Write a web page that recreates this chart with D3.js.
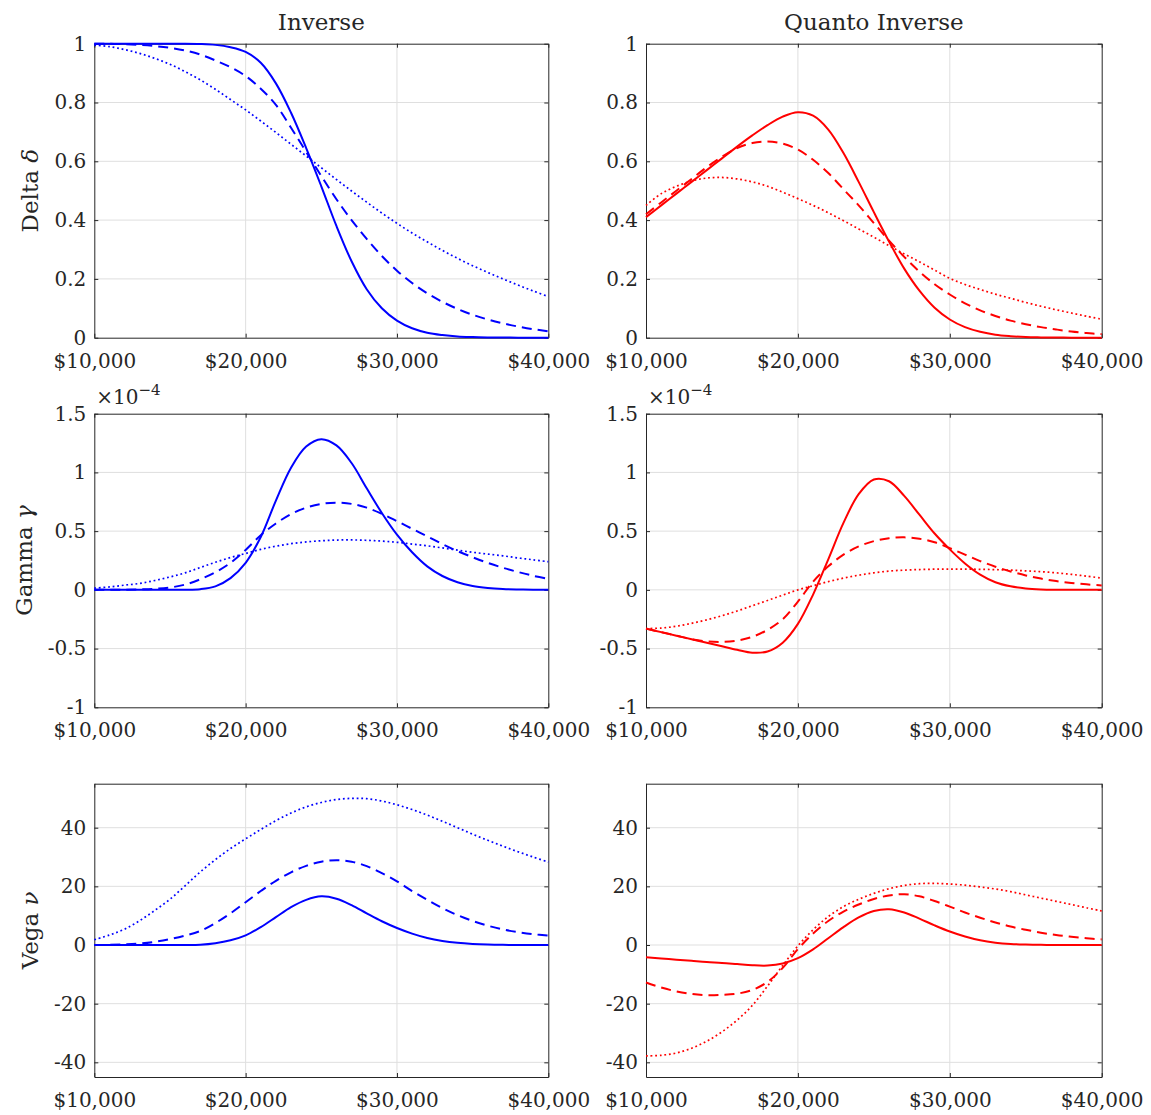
<!DOCTYPE html>
<html><head><meta charset="utf-8">
<script src="https://cdn.jsdelivr.net/npm/d3@7"></script>
<style>
body{margin:0;background:#fff;}
svg text{font-family:"DejaVu Serif",serif;fill:#262626;}
</style>
</head><body>
<svg id="c" width="1151" height="1115"></svg>
<script>
// ---------------- data ----------------
const strikes = [10000,11000,12000,13000,14000,15000,16000,17000,18000,19000,20000,
  21000,22000,23000,24000,25000,26000,27000,28000,29000,30000,
  31000,32000,33000,34000,35000,36000,37000,38000,39000,40000];
const xTickValues = [10000,20000,30000,40000];
const columnTitles = ["Inverse","Quanto Inverse"];
const deltaTicks = [0,0.2,0.4,0.6,0.8,1];
const gammaTicks = [-1,-0.5,0,0.5,1,1.5];   // in units of 1e-4
const vegaTicks = [-40,-20,0,20,40];

// Delta, inverse
const deltaInvSolid  = [1,1,1,1,1,1,1,0.999,0.996,0.988,0.972,0.935,0.865,0.765,0.645,0.515,0.38,0.26,0.165,0.1,0.058,0.032,0.017,0.009,0.004,0.002,0.001,0.0005,0.0002,0.0001,0];
const deltaInvDashed = [1,0.9995,0.9985,0.996,0.992,0.986,0.977,0.963,0.943,0.92,0.89,0.847,0.792,0.714,0.632,0.55,0.471,0.4,0.336,0.278,0.228,0.186,0.151,0.122,0.098,0.078,0.062,0.049,0.038,0.029,0.022];
const deltaInvDotted = [0.995,0.99,0.98,0.967,0.95,0.93,0.905,0.877,0.845,0.81,0.775,0.737,0.698,0.658,0.618,0.578,0.538,0.499,0.461,0.424,0.389,0.356,0.326,0.297,0.27,0.245,0.222,0.2,0.179,0.159,0.14];
// Delta, quanto inverse
const deltaQSolid  = [0.41,0.45,0.49,0.53,0.57,0.61,0.65,0.688,0.723,0.752,0.767,0.755,0.708,0.628,0.53,0.427,0.327,0.235,0.16,0.102,0.062,0.036,0.02,0.01,0.005,0.002,0.001,0.0005,0.0002,0.0001,0];
const deltaQDashed = [0.42,0.46,0.5,0.54,0.58,0.615,0.645,0.662,0.667,0.66,0.64,0.605,0.56,0.505,0.45,0.39,0.33,0.275,0.225,0.182,0.147,0.117,0.093,0.074,0.058,0.046,0.036,0.028,0.021,0.016,0.012];
const deltaQDotted = [0.45,0.49,0.515,0.533,0.543,0.545,0.54,0.53,0.515,0.495,0.473,0.45,0.425,0.398,0.37,0.342,0.313,0.285,0.258,0.23,0.202,0.181,0.164,0.148,0.134,0.12,0.107,0.095,0.084,0.073,0.063];
// Gamma (x 1e-4), inverse
const gammaInvSolid  = [0,0,0,0,0,0,0.001,0.006,0.03,0.1,0.23,0.45,0.76,1.04,1.22,1.283,1.23,1.08,0.865,0.655,0.47,0.32,0.2,0.118,0.065,0.033,0.016,0.007,0.003,0.001,0];
const gammaInvDashed = [0,0,0.001,0.004,0.009,0.02,0.045,0.09,0.15,0.23,0.34,0.465,0.565,0.645,0.7,0.732,0.742,0.732,0.7,0.648,0.585,0.52,0.455,0.39,0.33,0.278,0.23,0.188,0.152,0.12,0.093];
const gammaInvDotted = [0.015,0.025,0.04,0.055,0.08,0.11,0.145,0.19,0.235,0.275,0.31,0.345,0.372,0.393,0.408,0.418,0.424,0.425,0.422,0.415,0.405,0.39,0.375,0.357,0.338,0.32,0.305,0.29,0.272,0.256,0.24];
// Gamma (x 1e-4), quanto inverse
const gammaQSolid  = [-0.33,-0.36,-0.39,-0.42,-0.45,-0.48,-0.51,-0.535,-0.525,-0.45,-0.29,-0.04,0.26,0.57,0.815,0.94,0.925,0.8,0.64,0.48,0.345,0.225,0.13,0.065,0.03,0.012,0.004,0.001,0,0,0];
const gammaQDashed = [-0.33,-0.36,-0.39,-0.42,-0.438,-0.443,-0.432,-0.4,-0.34,-0.25,-0.1,0.07,0.2,0.3,0.37,0.415,0.44,0.447,0.435,0.405,0.355,0.3,0.245,0.197,0.157,0.123,0.096,0.075,0.059,0.047,0.038];
const gammaQDotted = [-0.33,-0.325,-0.31,-0.285,-0.255,-0.22,-0.18,-0.135,-0.09,-0.045,0,0.035,0.07,0.1,0.125,0.145,0.16,0.168,0.173,0.176,0.177,0.177,0.175,0.172,0.168,0.162,0.155,0.145,0.132,0.117,0.1];
// Vega, inverse
const vegaInvSolid  = [0,0,0,0,0,0,0.02,0.1,0.6,1.6,3.3,6.1,9.5,12.9,15.4,16.6,15.8,13.6,10.8,8.1,5.8,3.9,2.4,1.4,0.75,0.37,0.16,0.06,0.02,0.01,0];
const vegaInvDashed = [0,0.05,0.2,0.5,1.1,2.0,3.2,4.8,7.5,10.8,14.6,18.4,21.9,24.8,27.0,28.4,28.9,28.4,26.9,24.5,21.7,18.4,15.4,12.6,10.2,8.2,6.6,5.3,4.4,3.7,3.2];
const vegaInvDotted = [1.8,3.4,5.4,8.3,11.8,15.6,20.2,24.9,29.1,32.9,36.2,39.4,42.4,45,47.1,48.6,49.6,50.0,49.9,49.1,47.8,46.2,44.3,42.2,40.0,37.8,35.7,33.7,31.8,30.0,28.3];
// Vega, quanto inverse
const vegaQSolid  = [-4.2,-4.6,-5.0,-5.4,-5.8,-6.1,-6.5,-6.9,-7.0,-6.3,-4.5,-1.5,2.3,6.1,9.4,11.6,12.2,11.1,9.0,6.7,4.6,2.9,1.6,0.8,0.35,0.15,0.05,0.02,0,0,0];
const vegaQDashed = [-12.8,-14.5,-15.8,-16.7,-17.1,-17.0,-16.6,-15.3,-12.6,-7.8,-1.4,3.9,8.2,11.4,13.8,15.7,16.9,17.3,16.6,15.0,13.1,11.1,9.3,7.7,6.3,5.2,4.2,3.4,2.8,2.3,1.9];
const vegaQDotted = [-37.8,-37.6,-36.8,-35.2,-32.8,-29.6,-25.6,-20.6,-14.0,-7.0,-0.3,5.2,9.7,13.1,15.6,17.6,19.2,20.3,20.9,21.0,20.8,20.4,19.8,19.1,18.2,17.1,16.0,14.9,13.8,12.7,11.6];

// ---------------- layout / style ----------------
const cols = [{x0:94.3, x1:548.3, color:"#0000ff"}, {x0:646, x1:1101.7, color:"#ff0000"}];
const rowBoxes = [{y0:43.7, y1:337.7}, {y0:413.7, y1:707.3}, {y0:783.7, y1:1077}];
const rowDefs = [
  {name:"Delta", greek:"δ", domain:[0,1], ticks:deltaTicks, exp:null,
   series:[[deltaInvSolid,deltaInvDashed,deltaInvDotted],[deltaQSolid,deltaQDashed,deltaQDotted]]},
  {name:"Gamma", greek:"γ", domain:[-1,1.5], ticks:gammaTicks, exp:"−4",
   series:[[gammaInvSolid,gammaInvDashed,gammaInvDotted],[gammaQSolid,gammaQDashed,gammaQDotted]]},
  {name:"Vega", greek:"ν", domain:[-45,55], ticks:vegaTicks, exp:null,
   series:[[vegaInvSolid,vegaInvDashed,vegaInvDotted],[vegaQSolid,vegaQDashed,vegaQDotted]]}
];
const styles = [
  {w:2.0, dash:null},
  {w:2.0, dash:"10,6"},
  {w:1.7, dash:"1.8,2.8"}
];
const axisColor = "#262626", gridColor = "#dfdfdf";
const tickFont = 20, labelFont = 23;

const svg = d3.select("#c");
const fmtX = v => "$" + d3.format(",")(v);
const fmtY = v => String(v);

rowDefs.forEach((rd, ri) => {
  const rb = rowBoxes[ri];
  let minLeft = Infinity;
  cols.forEach((c, ci) => {
    const x = d3.scaleLinear().domain([10000,40000]).range([c.x0, c.x1]);
    const y = d3.scaleLinear().domain(rd.domain).range([rb.y1, rb.y0]);
    const g = svg.append("g");

    // grid
    g.append("g").selectAll("line").data(xTickValues.slice(1,-1)).join("line")
      .attr("x1", d=>x(d)).attr("x2", d=>x(d)).attr("y1", rb.y0).attr("y2", rb.y1)
      .attr("stroke", gridColor).attr("stroke-width", 1);
    g.append("g").selectAll("line").data(rd.ticks.filter(t=>y(t)>rb.y0+1 && y(t)<rb.y1-1)).join("line")
      .attr("y1", d=>y(d)).attr("y2", d=>y(d)).attr("x1", c.x0).attr("x2", c.x1)
      .attr("stroke", gridColor).attr("stroke-width", 1);

    // axes (ticks pointing inward on all four sides)
    const styleAxis = sel => {
      sel.attr("color", axisColor).attr("font-family", null).attr("font-size", null);
      sel.selectAll("path.domain").attr("stroke-width", 1);
      sel.selectAll("text").style("font-size", tickFont + "px").style("fill", axisColor);
    };
    const bottom = g.append("g").attr("transform", `translate(0,${rb.y1})`)
      .call(d3.axisBottom(x).tickValues(xTickValues).tickFormat(fmtX).tickSizeInner(-4).tickSizeOuter(0).tickPadding(16));
    styleAxis(bottom);
    const top = g.append("g").attr("transform", `translate(0,${rb.y0})`)
      .call(d3.axisTop(x).tickValues(xTickValues).tickFormat("").tickSizeInner(-4).tickSizeOuter(0));
    styleAxis(top);
    const left = g.append("g").attr("transform", `translate(${c.x0},0)`)
      .call(d3.axisLeft(y).tickValues(rd.ticks).tickFormat(fmtY).tickSizeInner(-4).tickSizeOuter(0).tickPadding(8));
    styleAxis(left);
    left.selectAll("text").attr("dy", "0.32em");
    const right = g.append("g").attr("transform", `translate(${c.x1},0)`)
      .call(d3.axisRight(y).tickValues(rd.ticks).tickFormat("").tickSizeInner(-4).tickSizeOuter(0));
    styleAxis(right);

    if (ci === 0) {
      left.selectAll("text").each(function(){ const b=this.getBBox(); minLeft=Math.min(minLeft, c.x0 + b.x); });
    }

    // exponent label
    if (rd.exp) {
      const t = g.append("text").attr("x", c.x0 + 2).attr("y", rb.y0 - 10)
        .style("font-size", "20px");
      t.append("tspan").text("×10");
      t.append("tspan").attr("dy", -9).style("font-size", "15px").text(rd.exp);
    }

    // curves
    const line = d3.line().x((d,i)=>x(strikes[i])).y(d=>y(d)).curve(d3.curveCatmullRom.alpha(0.5));
    rd.series[ci].forEach((s, si) => {
      g.append("path").attr("d", line(s)).attr("fill", "none")
        .attr("stroke", c.color).attr("stroke-width", styles[si].w)
        .attr("stroke-dasharray", styles[si].dash)
        .attr("stroke-linejoin", "round");
    });

    if (ri === 0) {
      svg.append("text").attr("x", (c.x0 + c.x1)/2).attr("y", 30)
        .attr("text-anchor", "middle").style("font-size", labelFont + "px")
        .text(columnTitles[ci]);
    }
  });

  // y label
  const lx = minLeft - 16, ly = (rb.y0 + rb.y1)/2;
  const yl = svg.append("text").attr("transform", `translate(${lx},${ly}) rotate(-90)`)
    .attr("text-anchor", "middle").style("font-size", labelFont + "px");
  yl.append("tspan").text(rd.name + " ");
  yl.append("tspan").style("font-style", "italic").text(rd.greek);
});
</script>
</body></html>
